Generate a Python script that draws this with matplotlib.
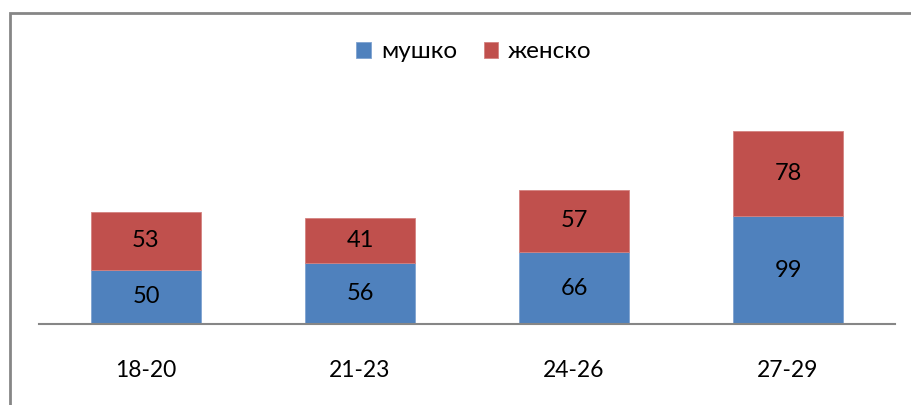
import matplotlib.pyplot as plt
import matplotlib.patches as mpatches
import numpy as np

# податоци
groups = ['18-20', '21-23', '24-26', '27-29']
male = [50, 56, 66, 99]
female = [53, 41, 57, 78]
series_names = ['мушко', 'женско']

plt.rcParams['font.family'] = ['Lato', 'DejaVu Sans']

fig = plt.figure(figsize=(9.12, 4.05), dpi=100)
ax = fig.add_axes([39 / 912, 81 / 405, 856 / 912, 218 / 405])

x = np.arange(len(groups))
b1 = ax.bar(x, male, width=0.51, color='#4F81BD', edgecolor='#7fa3d0', linewidth=0.6,
            label=series_names[0])
b2 = ax.bar(x, female, width=0.51, bottom=male, color='#C0504D', edgecolor='#d48280',
            linewidth=0.6, label=series_names[1])

# вредности во средината на секој дел
ax.bar_label(b1, labels=[str(v) for v in male], label_type='center', fontsize=17)
ax.bar_label(b2, labels=[str(v) for v in female], label_type='center', fontsize=17)

ax.set_xlim(-0.5, len(groups) - 0.5)
ax.set_ylim(0, 200)
ax.set_xticks(x)
ax.set_xticklabels(groups, fontsize=16.5)
ax.tick_params(axis='x', length=0, pad=26)
ax.set_yticks([])
for s in ['top', 'right', 'left']:
    ax.spines[s].set_visible(False)
ax.spines['bottom'].set_color('#868686')
ax.spines['bottom'].set_linewidth(1.5)

fig.legend(handles=[b1, b2], labels=series_names, loc='center', ncol=2,
           bbox_to_anchor=(474 / 912, 1 - 52 / 405), frameon=False, fontsize=17.5,
           handlelength=0.6, handleheight=0.6, handletextpad=0.4, columnspacing=1.1)

# рамка на графиконот
fig.patches.append(mpatches.Rectangle((10 / 912, -0.1), 1.2, 1 - 13 / 405 + 0.1,
                                      transform=fig.transFigure, fill=False,
                                      edgecolor='#868686', linewidth=2))

fig.savefig('out.png', dpi=100)
